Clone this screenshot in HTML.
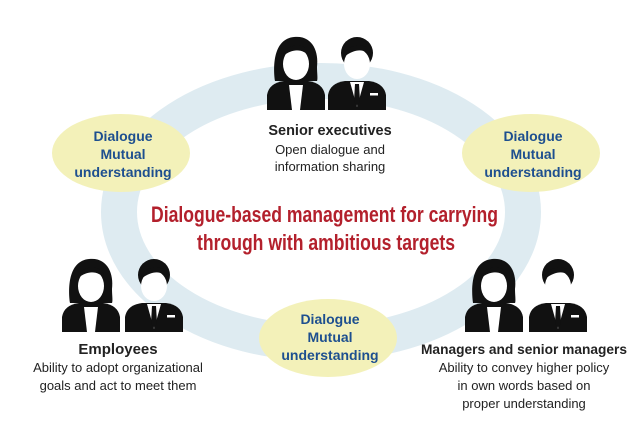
<!DOCTYPE html>
<html><head><meta charset="utf-8"><style>
html,body{margin:0;padding:0;background:#fff;}
svg{display:block;}
</style></head><body>
<svg width="640" height="440" viewBox="0 0 640 440" xmlns="http://www.w3.org/2000/svg">
<defs>
<g id="fem">
 <path d="M9,46 C7,32 7,4 28,2 C46,0 53,16 51,32 C51,38 52,44 51,46 Z" fill="#111"/>
 <ellipse cx="30" cy="29" rx="13" ry="16" fill="#fff"/>
 <path d="M17,21 C17,8 44,6 43,21 C38,15 28,12 17,21 Z" fill="#111"/>
 <path d="M1,75 L1,60 Q3,48 18,46 L42,46 Q57,48 59,60 L59,75 Z" fill="#111"/>
 <path d="M23,50 L37,50 L34,75 L26,75 Z" fill="#fff"/>
</g>
<g id="mal">
 <ellipse cx="30" cy="18" rx="16" ry="16" fill="#111"/>
 <ellipse cx="30" cy="29" rx="13" ry="15" fill="#fff"/>
 <path d="M17,22 C16,8 45,6 43,20 C38,14 28,13 17,22 Z" fill="#111"/>
 <path d="M1,75 L1,60 Q3,48 18,46 L42,46 Q57,48 59,60 L59,75 Z" fill="#111"/>
 <path d="M23,47 L37,47 L30,72 Z" fill="#fff"/>
 <path d="M28,49 L32,49 L33,66 L30,71 L27,66 Z" fill="#111"/>
 <rect x="43" y="58" width="8" height="2.5" fill="#fff"/>
</g>
</defs>
<ellipse cx="321" cy="212" rx="202" ry="131" fill="none" stroke="#deebf1" stroke-width="36"/>

<use href="#fem" x="266" y="35"/><use href="#mal" x="327" y="35"/>
<use href="#fem" x="61" y="257"/><use href="#mal" x="124" y="257"/>
<use href="#fem" x="464" y="257"/><use href="#mal" x="528" y="257"/>

<g fill="#f3f1b9">
<ellipse cx="121" cy="153" rx="69" ry="39"/>
<ellipse cx="531" cy="153" rx="69" ry="39"/>
<ellipse cx="328" cy="338" rx="69" ry="39"/>
</g>
<g font-family="Liberation Sans, sans-serif" font-weight="bold" font-size="14" fill="#1d4f8f" text-anchor="middle">
<text x="123" y="141">Dialogue</text><text x="123" y="159">Mutual</text><text x="123" y="177">understanding</text>
<text x="533" y="141">Dialogue</text><text x="533" y="159">Mutual</text><text x="533" y="177">understanding</text>
<text x="330" y="324">Dialogue</text><text x="330" y="342">Mutual</text><text x="330" y="360">understanding</text>
</g>
<g font-family="Liberation Sans, sans-serif" font-weight="bold" font-size="22" fill="#b3202c">
<text x="151" y="222" textLength="347" lengthAdjust="spacingAndGlyphs">Dialogue-based management for carrying</text>
<text x="197" y="250" textLength="258" lengthAdjust="spacingAndGlyphs">through with ambitious targets</text>
</g>
<g font-family="Liberation Sans, sans-serif" fill="#222" text-anchor="middle">
<text x="330" y="135" font-size="14.5" font-weight="bold">Senior executives</text>
<text x="330" y="154" font-size="13">Open dialogue and</text>
<text x="330" y="171" font-size="13">information sharing</text>
<text x="118" y="354" font-size="15" font-weight="bold">Employees</text>
<text x="118" y="372" font-size="13">Ability to adopt organizational</text>
<text x="118" y="390" font-size="13">goals and act to meet them</text>
<text x="524" y="354" font-size="14" font-weight="bold" textLength="206" lengthAdjust="spacingAndGlyphs">Managers and senior managers</text>
<text x="524" y="372" font-size="13">Ability to convey higher policy</text>
<text x="524" y="390" font-size="13">in own words based on</text>
<text x="524" y="408" font-size="13">proper understanding</text>
</g>
</svg>
</body></html>
